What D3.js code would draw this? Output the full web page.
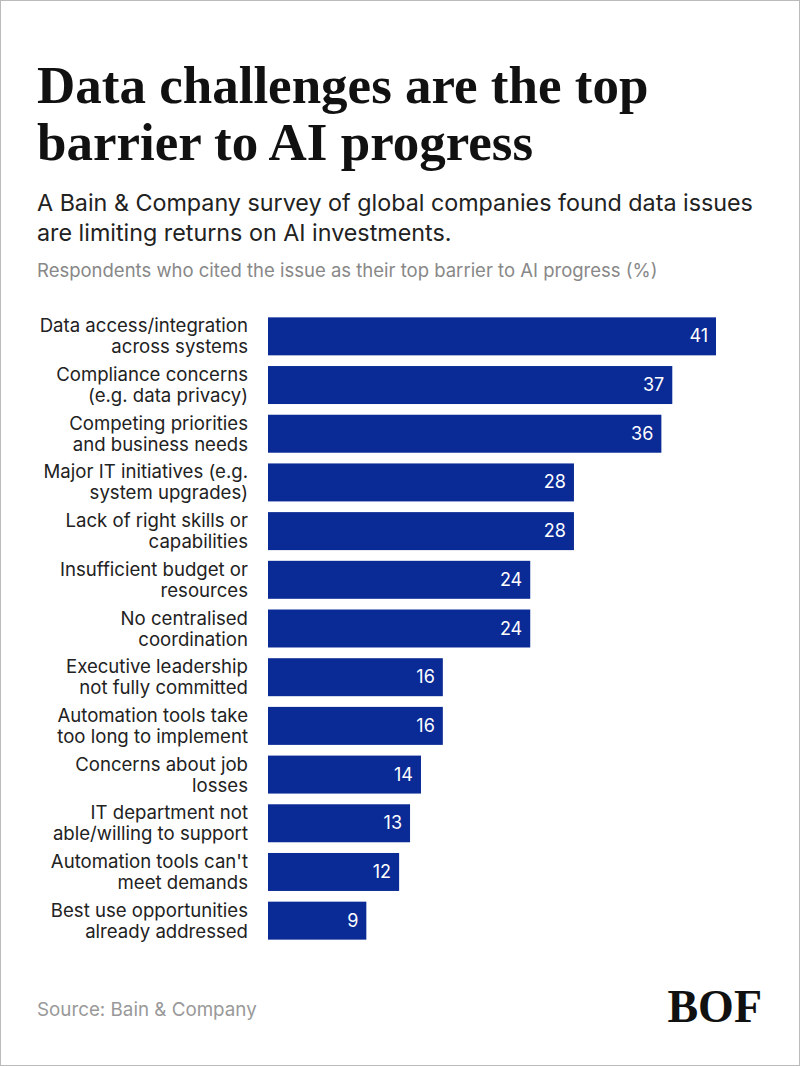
<!DOCTYPE html>
<html><head><meta charset="utf-8">
<script src="https://cdn.jsdelivr.net/npm/d3@7"></script>
<style>body{margin:0;background:#fff}</style>
</head><body>
<script>
const categories = [
  ["Data access/integration","across systems"],
  ["Compliance concerns","(e.g. data privacy)"],
  ["Competing priorities","and business needs"],
  ["Major IT initiatives (e.g.","system upgrades)"],
  ["Lack of right skills or","capabilities"],
  ["Insufficient budget or","resources"],
  ["No centralised","coordination"],
  ["Executive leadership","not fully committed"],
  ["Automation tools take","too long to implement"],
  ["Concerns about job","losses"],
  ["IT department not","able/willing to support"],
  ["Automation tools can't","meet demands"],
  ["Best use opportunities","already addressed"]
];
const values = [41,37,36,28,28,24,24,16,16,14,13,12,9];

const width = 800, height = 1066;
const svg = d3.select("body").append("svg").attr("width", width).attr("height", height);
svg.append("rect").attr("x",0.5).attr("y",0.5).attr("width",width-1).attr("height",height-1)
  .attr("fill","#fff").attr("stroke","#bbb");

const serif = "'Liberation Serif', 'DejaVu Serif', serif";
const sans = "Inter, 'Open Sans', sans-serif";

svg.selectAll("text.title").data(["Data challenges are the top","barrier to AI progress"]).join("text")
  .attr("x",37).attr("y",(d,i)=>103+i*57).attr("font-family",serif).attr("font-weight","bold")
  .attr("font-size",53).attr("fill","#111").text(d=>d);

svg.selectAll("text.sub").data(["A Bain & Company survey of global companies found data issues","are limiting returns on AI investments."]).join("text")
  .attr("x",37).attr("y",(d,i)=>211+i*30).attr("font-family",sans)
  .attr("font-size",23.3).attr("fill","#222").text(d=>d);

svg.append("text").attr("x",37).attr("y",277).attr("font-family",sans).attr("font-size",18.5)
  .attr("fill","#888").text("Respondents who cited the issue as their top barrier to AI progress (%)");

const x = d3.scaleLinear().domain([0,41]).range([268,716]);
const y = d3.scaleBand().domain(d3.range(values.length)).range([312,945]).paddingInner(0.22).paddingOuter(0.11);

const g = svg.append("g");
g.selectAll("rect.bar").data(values).join("rect")
  .attr("x",x(0)).attr("y",(d,i)=>y(i)).attr("width",d=>x(d)-x(0)).attr("height",y.bandwidth())
  .attr("fill","#0a2a95");
g.selectAll("text.val").data(values).join("text")
  .attr("x",d=>x(d)-8).attr("y",(d,i)=>y(i)+y.bandwidth()/2+6).attr("text-anchor","end")
  .attr("font-family",sans).attr("font-size",18).attr("fill","#fff").text(d=>d);
categories.forEach((c,i)=>{
  g.append("text").attr("x",248).attr("y",y(i)+y.bandwidth()/2-4).attr("text-anchor","end")
    .attr("font-family",sans).attr("font-size",18.6).attr("fill","#222")
    .selectAll("tspan").data(c).join("tspan").attr("x",248).attr("dy",(d,j)=>j?21:0).text(d=>d);
});

svg.append("text").attr("x",37).attr("y",1016).attr("font-family",sans).attr("font-size",18.8)
  .attr("fill","#999").text("Source: Bain & Company");
svg.append("text").attr("x",762).attr("y",1022).attr("text-anchor","end").attr("font-family",serif)
  .attr("font-weight","bold").attr("font-size",46).attr("fill","#111").text("BOF");
</script>
</body></html>
